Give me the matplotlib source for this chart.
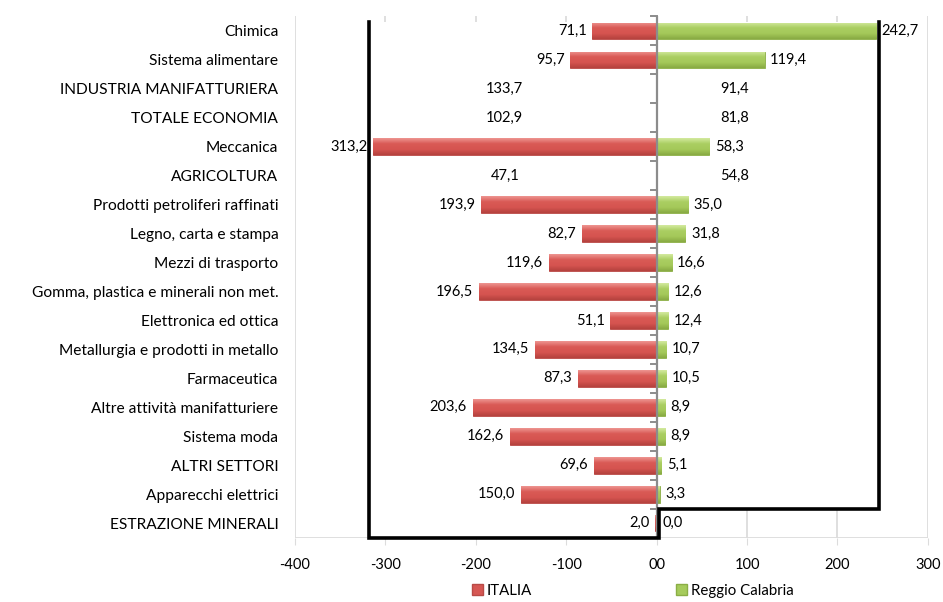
import numpy as np
import matplotlib
matplotlib.use('Agg')
import matplotlib.pyplot as plt
from matplotlib.colors import LinearSegmentedColormap
from matplotlib.patches import Patch

plt.rcParams['font.family'] = ['Lato', 'DejaVu Sans']

settori = ['Chimica', 'Sistema alimentare', 'INDUSTRIA MANIFATTURIERA', 'TOTALE ECONOMIA',
           'Meccanica', 'AGRICOLTURA', 'Prodotti petroliferi raffinati', 'Legno, carta e stampa',
           'Mezzi di trasporto', 'Gomma, plastica e minerali non met.', 'Elettronica ed ottica',
           'Metallurgia e prodotti in metallo', 'Farmaceutica', 'Altre attività manifatturiere',
           'Sistema moda', 'ALTRI SETTORI', 'Apparecchi elettrici', 'ESTRAZIONE MINERALI']
italia = [71.1, 95.7, 133.7, 102.9, 313.2, 47.1, 193.9, 82.7, 119.6, 196.5,
          51.1, 134.5, 87.3, 203.6, 162.6, 69.6, 150.0, 2.0]
reggio = [242.7, 119.4, 91.4, 81.8, 58.3, 54.8, 35.0, 31.8, 16.6, 12.6,
          12.4, 10.7, 10.5, 8.9, 8.9, 5.1, 3.3, 0.0]
# aggregati: solo etichette, niente barre
aggregati = ['INDUSTRIA MANIFATTURIERA', 'TOTALE ECONOMIA', 'AGRICOLTURA']
xticks = [-400, -300, -200, -100, 0, 100, 200, 300]
xticklabels = ['-400', '-300', '-200', '-100', '00', '100', '200', '300']

fmt = lambda v: f'{v:.1f}'.replace('.', ',')

fig = plt.figure(figsize=(9.43, 6.02), dpi=100)
ax = fig.add_axes([0.3128, 0.1071, 0.984 - 0.3128, 0.9726 - 0.1071])

y = np.arange(len(settori))
grigio = '#DCDCDC'

# griglia verticale
for xt in xticks:
    ax.axvline(xt, color=grigio, lw=1.3, zorder=0)
ax.axhline(17.5, color=grigio, lw=1.3, zorder=0)

# area bianca con bordo nero a gradini
sx, dx = -318.5, 245.5
bordo_x = [sx, sx, 2.5, 2.5, dx, dx]
bordo_y = [-0.32, 17.5, 17.5, 16.5, 16.5, -0.32]
ax.fill(bordo_x + [sx], bordo_y + [-0.32], color='white', zorder=1, lw=0)
ax.plot(bordo_x, bordo_y, color='black', lw=2.6, zorder=5, solid_joinstyle='miter',
        clip_on=False)

vis = np.array([s not in aggregati for s in settori])
ita_neg = -np.array(italia)
rc = np.array(reggio)

h = 0.58
b1 = ax.barh(y[vis], ita_neg[vis], height=h, color='#D65753', edgecolor='#B84A46',
             lw=0.6, zorder=3)
b2 = ax.barh(y[vis], rc[vis], height=h, color='#A6CB5C', edgecolor='#8BAE46',
             lw=0.6, zorder=3)

cm_r = LinearSegmentedColormap.from_list('r', ['#EE9591', '#D95A55', '#D65450', '#B5423E'])
cm_g = LinearSegmentedColormap.from_list('g', ['#D4EA9F', '#AACE62', '#A5C95A', '#88AA43'])
grad = np.linspace(0, 1, 64).reshape(-1, 1)
for bars, cm in ((b1, cm_r), (b2, cm_g)):
    for p in bars:
        x0, yb = p.get_xy()
        w, hh = p.get_width(), p.get_height()
        if w == 0:
            continue
        im = ax.imshow(grad, cmap=cm, aspect='auto', zorder=3.5,
                       extent=(x0, x0 + w, yb + hh, yb), interpolation='bilinear')
        im.set_clip_path(p)

# etichette valori
for i, s in enumerate(settori):
    if s in aggregati:
        ax.text(-168, i, fmt(italia[i]), ha='center', va='center', fontsize=10.5, zorder=6)
        ax.text(86, i, fmt(reggio[i]), ha='center', va='center', fontsize=10.5, zorder=6)
    else:
        ax.annotate(fmt(italia[i]), (-italia[i], i), xytext=(-4, 0), textcoords='offset points',
                    ha='right', va='center', fontsize=10.5, zorder=6)
        ax.annotate(fmt(reggio[i]), (reggio[i], i), xytext=(4, 0), textcoords='offset points',
                    ha='left', va='center', fontsize=10.5, zorder=6)

# asse centrale con tacche
ax.axvline(0, color='#8C8C8C', lw=1.6, zorder=4)
for yb in np.arange(-0.5, len(settori), 1.0):
    ax.plot([-6.5, 0], [yb, yb], color='#8C8C8C', lw=1.4, zorder=4, clip_on=False)

ax.set_xlim(-400, 300)
ax.set_ylim(17.5, -0.5)
ax.set_yticks(y)
ax.set_yticklabels(settori, fontsize=11.2)
ax.set_xticks(xticks)
ax.set_xticklabels(xticklabels, fontsize=10.5)
ax.tick_params(axis='y', length=0, pad=12)
ax.tick_params(axis='x', length=5, color=grigio, pad=10)
for sp in ax.spines.values():
    sp.set_visible(False)

handles = [Patch(facecolor='#D65753', edgecolor='#B84A46', label='ITALIA'),
           Patch(facecolor='#A6CB5C', edgecolor='#8BAE46', label='Reggio Calabria')]
fig.legend(handles=handles, loc='center', bbox_to_anchor=(0.671, 0.018), ncol=2, frameon=False,
           fontsize=10.8, handlelength=0.75, handleheight=0.75, handletextpad=0.25,
           columnspacing=9.6)

fig.savefig('out.png', dpi=100)
